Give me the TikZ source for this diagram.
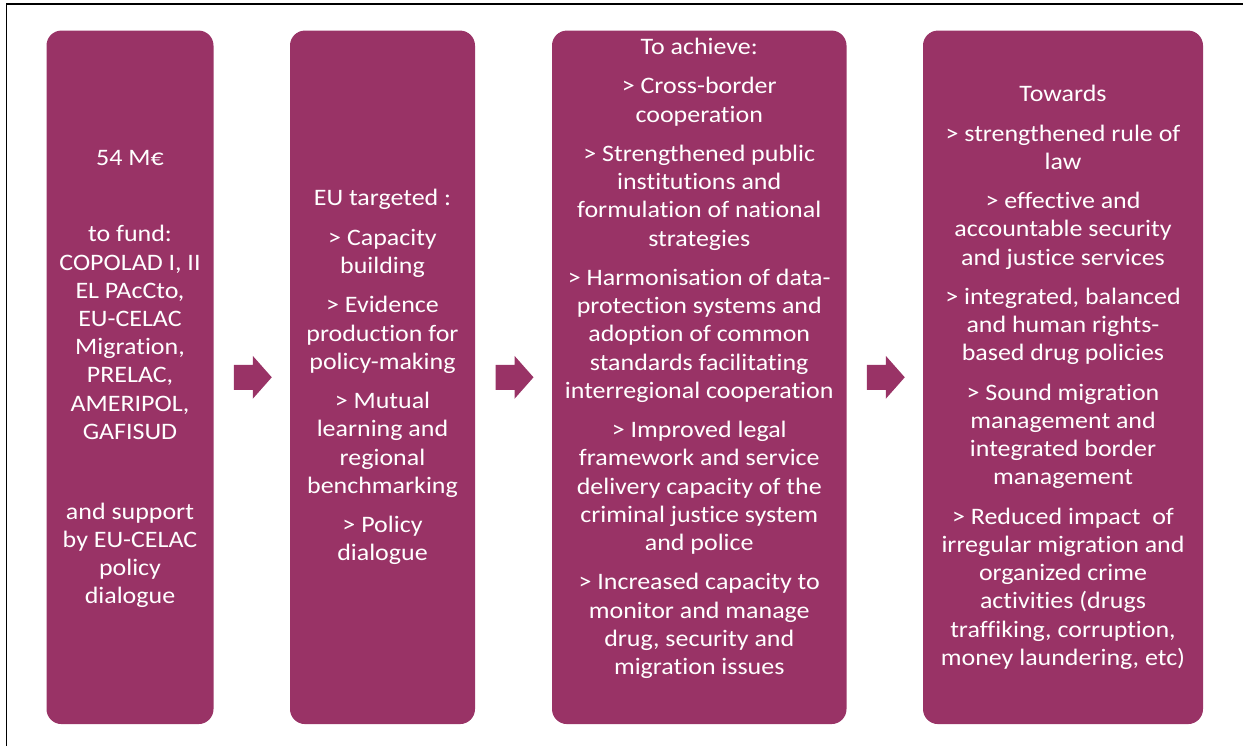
\documentclass[tikz,border=0pt]{standalone}
\usepackage{fontspec}
\setmainfont{Carlito}[FakeStretch=1.1, Ligatures=NoCommon]
\usetikzlibrary{calc}
\definecolor{plum}{HTML}{993366}

\begin{document}
\begin{tikzpicture}[x=0.5pt,y=-0.5pt,
    box/.style={fill=plum, rounded corners=7.5pt, inner sep=0pt, minimum height=346.75pt},
    txt/.style={text=white, align=center, inner sep=0pt, font=\fontsize{11.8}{14.1}\selectfont}]
    \useasboundingbox (0,0) rectangle (1243,746);
    \draw [black, line width=0.7pt] (6.5,746) -- (6.5,4) -- (1243,4);
    \node [box, minimum width=83.5pt] (fund) at (130,377.3) {};
    \node [box, minimum width=92.5pt] (target) at (382.5,377.3) {};
    \node [box, minimum width=147.25pt] (achieve) at (699.25,377.3) {};
    \node [box, minimum width=140pt] (towards) at (1063,377.3) {};
    \node [txt] (fundtxt) at ([yshift=-1pt]fund.center) {54 M€\\[23.9pt]
        to fund:\\ COPOLAD I, II\\ EL PAcCto,\\ EU-CELAC\\ Migration,\\ PRELAC,\\ AMERIPOL,\\ GAFISUD\\[25.9pt]
        and support\\ by EU-CELAC\\ policy\\ dialogue};
    \node [txt] (targettxt) at (target.center) {EU targeted :\\[5.6pt]
        > Capacity\\ building\\[5.6pt]
        > Evidence\\ production for\\ policy-making\\[5.6pt]
        > Mutual\\ learning and\\ regional\\ benchmarking\\[5.6pt]
        > Policy\\ dialogue};
    \node [txt] (achievetxt) at ([yshift=9.5pt]achieve.center) {To achieve:\\[5.6pt]
        > Cross-border\\ cooperation\\[5.6pt]
        > Strengthened public\\ institutions and\\ formulation of national\\ strategies\\[5.6pt]
        > Harmonisation of data-\\ protection systems and\\ adoption of common\\ standards facilitating\\ interregional cooperation\\[5.6pt]
        > Improved legal\\ framework and service\\ delivery capacity of the\\ criminal justice system\\ and police\\[5.6pt]
        > Increased capacity to\\ monitor and manage\\ drug, security and\\ migration issues};
    \node [txt] (towardstxt) at (towards.center) {Towards\\[5.6pt]
        > strengthened rule of\\ law\\[5.6pt]
        > effective and\\ accountable security\\ and justice services\\[5.6pt]
        > integrated, balanced\\ and human rights-\\ based drug policies\\[5.6pt]
        > Sound migration\\ management and\\ integrated border\\ management\\[5.6pt]
        > Reduced impact\ \ of\\ irregular migration and\\ organized crime\\ activities (drugs\\ traffiking, corruption,\\ money laundering, etc)};
    % block arrows between the boxes
    \foreach \a/\b in {fund/target, target/achieve, achieve/towards}
        \fill [plum] ($(\a.east)!0.5!(\b.west)+(1,0)$) ++(-19,-12.5) -- ++(19,0) -- ++(0,-9) -- ++(19,21.5)
            -- ++(-19,21.5) -- ++(0,-9) -- ++(-19,0) -- cycle;
\end{tikzpicture}
\end{document}
